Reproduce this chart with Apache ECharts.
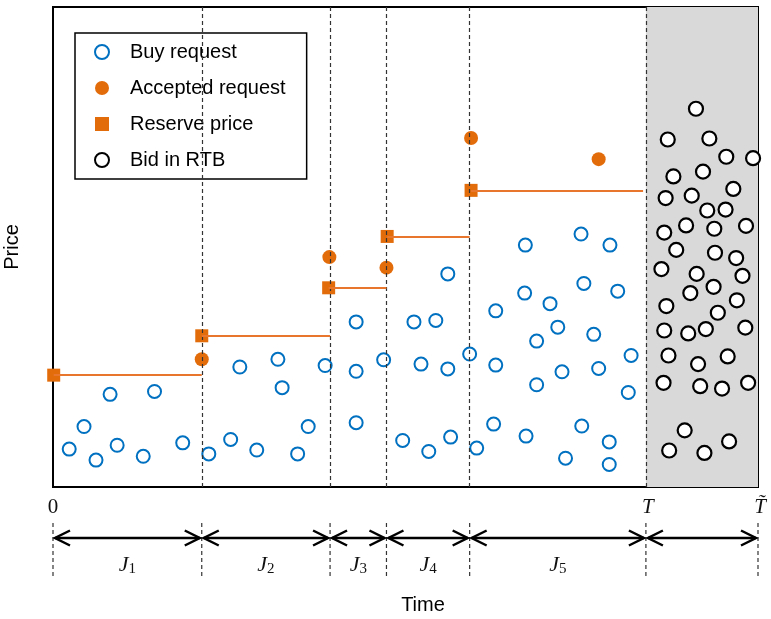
<!DOCTYPE html>
<html>
<head>
<meta charset="utf-8">
<script src="https://cdn.jsdelivr.net/npm/echarts@6/dist/echarts.min.js"></script>
<style>
  html, body { margin: 0; padding: 0; background: #fff; }
  #chart { width: 771px; height: 619px; }
</style>
</head>
<body>
<div id="chart"></div>
<script>
// time runs 0 .. 100 (0 -> T~), price 0 .. 100
const boundaries = [0, 21.1, 39.3, 47.3, 59.1, 84.1, 100];
const periodLabels = ['1', '2', '3', '4', '5', ''];
const timeMarks = [[0, '0'], [84.1, 'T'], [100, 'T\u0303']];

const buyRequests = [
  [2.3, 7.9], [4.4, 12.6], [6.1, 5.6], [8.1, 19.3], [9.1, 8.7], [12.8, 6.4], [14.4, 19.9], [18.4, 9.2],
  [22.1, 6.9], [25.2, 9.9], [26.5, 25.0], [28.9, 7.7], [31.9, 26.6], [32.5, 20.7], [34.7, 6.9], [36.2, 12.6], [38.6, 25.3],
  [43.0, 34.4], [43.0, 24.1], [43.0, 13.4], [46.9, 26.5],
  [49.6, 9.7], [51.2, 34.4], [52.2, 25.6], [53.3, 7.4], [54.3, 34.7], [56.0, 44.4], [56.0, 24.6], [56.4, 10.4],
  [59.1, 27.7], [60.1, 8.1], [62.5, 13.1], [62.8, 36.7], [62.8, 25.4], [66.9, 40.4], [67.0, 50.4], [67.1, 10.6],
  [68.6, 30.4], [68.6, 21.3], [70.5, 38.2], [71.6, 33.3], [72.2, 24.0], [72.7, 6.0], [74.9, 52.7], [75.0, 12.7],
  [75.3, 42.4], [76.7, 31.8], [77.4, 24.7], [78.9, 9.4], [78.9, 4.7], [79.0, 50.4], [80.1, 40.8], [81.6, 19.7], [82.0, 27.4]
];
const acceptedRequests = [[21.1, 26.6], [39.2, 47.9], [47.3, 45.7], [59.3, 72.7], [77.4, 68.3]];
const reservePrices = [[0.1, 23.3], [21.1, 31.5], [39.1, 41.5], [47.4, 52.2], [59.3, 61.8]];
const reserveEnds = [21.1, 39.3, 47.3, 59.1, 83.7];
const rtbBids = [
  [91.2, 78.8], [87.2, 72.4], [93.1, 72.6], [95.5, 68.8], [99.3, 68.5], [88.0, 64.7], [92.2, 65.7], [96.5, 62.1],
  [86.9, 60.2], [90.6, 60.7], [92.8, 57.6], [95.4, 57.8], [86.7, 53.0], [89.8, 54.5], [93.8, 53.8], [98.3, 54.4],
  [88.4, 49.4], [93.9, 48.8], [96.9, 47.7], [86.3, 45.4], [91.3, 44.4], [97.8, 44.0], [90.4, 40.4], [93.7, 41.7],
  [97.0, 38.9], [87.0, 37.7], [94.3, 36.3], [86.7, 32.6], [90.1, 32.0], [92.6, 32.9], [98.2, 33.2], [87.3, 27.4],
  [91.5, 25.6], [95.7, 27.2], [86.6, 21.7], [91.8, 21.0], [94.9, 20.5], [98.6, 21.7], [89.6, 11.8], [87.4, 7.6],
  [92.4, 7.1], [95.9, 9.5]
];

const ORANGE = '#E36C0A';
const BLUE = '#0070C0';
const SANS = 'Liberation Sans, Arial, sans-serif';
const SERIF = 'Liberation Serif, Times New Roman, serif';

// dashed ticks under the plot
function renderTick(params, api) {
  const p = api.coord([api.value(0), 0]);
  return {
    type: 'line',
    shape: { x1: p[0], y1: p[1] - 57, x2: p[0], y2: p[1] - 2 },
    style: { stroke: '#333', lineWidth: 1.2, lineDash: [4, 3] }
  };
}

// double headed arrows with J labels
function renderArrow(params, api) {
  const a = api.coord([api.value(0), 0]);
  const b = api.coord([api.value(1), 0]);
  const x0 = a[0] + 2, x1 = b[0] - 2, y = a[1] - 42;
  const style = { stroke: '#000', lineWidth: 2.5, fill: null };
  const children = [
    { type: 'line', shape: { x1: x0, y1: y, x2: x1, y2: y }, style: style },
    { type: 'polyline', shape: { points: [[x0 + 15, y - 7.5], [x0, y], [x0 + 15, y + 7.5]] }, style: style },
    { type: 'polyline', shape: { points: [[x1 - 15, y - 7.5], [x1, y], [x1 - 15, y + 7.5]] }, style: style }
  ];
  const sub = periodLabels[params.dataIndex];
  if (sub) {
    children.push({
      type: 'text',
      style: {
        text: '{j|J}{s|' + sub + '}',
        x: (x0 + x1) / 2,
        y: a[1] - 15,
        align: 'center',
        verticalAlign: 'middle',
        rich: {
          j: { fontFamily: SERIF, fontStyle: 'italic', fontSize: 22, lineHeight: 24, fill: '#111' },
          s: { fontFamily: SERIF, fontSize: 15, lineHeight: 15, verticalAlign: 'bottom', fill: '#111' }
        }
      }
    });
  }
  return { type: 'group', children: children };
}

function renderMark(params, api) {
  const p = api.coord([api.value(0), 0]);
  const i = params.dataIndex;
  return {
    type: 'text',
    style: {
      text: timeMarks[i][1],
      x: p[0] + (i === 0 ? 0 : 2),
      y: p[1] - 73,
      align: 'center',
      verticalAlign: 'middle',
      fontFamily: SERIF,
      fontStyle: i === 0 ? 'normal' : 'italic',
      fontSize: 21,
      fill: '#111'
    }
  };
}

const chart = echarts.init(document.getElementById('chart'));
chart.setOption({
  animation: false,
  textStyle: { fontFamily: SANS },
  grid: [
    {
      left: 53, right: 13, top: 7, height: 480, show: true,
      borderColor: '#000', borderWidth: 2, backgroundColor: 'transparent',
      containLabel: false, outerBoundsMode: 'none'
    },
    { left: 53, right: 13, top: 495, height: 85, containLabel: false, outerBoundsMode: 'none' }
  ],
  xAxis: [
    {
      gridIndex: 0, type: 'value', min: 0, max: 100,
      name: 'Time', nameLocation: 'middle', nameGap: 108,
      nameTextStyle: { fontSize: 20, color: '#000', fontFamily: SANS, padding: [0, 0, 0, 35] },
      axisLine: { show: false }, axisTick: { show: false }, axisLabel: { show: false }, splitLine: { show: false }
    },
    { gridIndex: 1, type: 'value', min: 0, max: 100, show: false }
  ],
  yAxis: [
    {
      gridIndex: 0, type: 'value', min: 0, max: 100,
      name: 'Price', nameLocation: 'middle', nameGap: 31,
      nameTextStyle: { fontSize: 20, color: '#000', fontFamily: SANS },
      axisLine: { show: false }, axisTick: { show: false }, axisLabel: { show: false }, splitLine: { show: false }
    },
    { gridIndex: 1, type: 'value', min: 0, max: 1, show: false }
  ],
  legend: {
    left: 75,
    top: 33,
    orient: 'vertical',
    itemWidth: 14,
    itemHeight: 14,
    itemGap: 14,
    padding: [8, 21, 8, 19],
    borderColor: '#000',
    borderWidth: 1.5,
    backgroundColor: '#fff',
    textStyle: { fontSize: 20, lineHeight: 22, color: '#000', fontFamily: SANS, padding: [0, 0, 0, 16] },
    data: [
      'Buy request',
      'Accepted request',
      { name: 'Reserve price', icon: 'path://M0 0H10V10H0Z' },
      'Bid in RTB'
    ]
  },
  series: [
    {
      name: 'shade', type: 'line', data: [], z: 1, silent: true,
      markArea: {
        silent: true,
        itemStyle: { color: '#D9D9D9', opacity: 1 },
        data: [[{ xAxis: boundaries[5] }, { xAxis: boundaries[6] }]]
      }
    },
    {
      name: 'dividers', type: 'line', data: [], z: 2, silent: true,
      markLine: {
        silent: true,
        symbol: ['none', 'none'],
        label: { show: false },
        lineStyle: { color: '#333', width: 1.2, type: [4, 3] },
        data: boundaries.slice(1, 6).map(x => ({ xAxis: x }))
      }
    },
    {
      name: 'Buy request', type: 'scatter', data: buyRequests, z: 3,
      symbol: 'circle', symbolSize: 13,
      itemStyle: { color: '#fff', borderColor: BLUE, borderWidth: 2, opacity: 1 }
    },
    {
      name: 'Accepted request', type: 'scatter', data: acceptedRequests, z: 4,
      symbol: 'circle', symbolSize: 14,
      itemStyle: { color: ORANGE, opacity: 1 }
    },
    {
      name: 'Reserve price', type: 'scatter', data: reservePrices, z: 4,
      symbol: 'rect', symbolSize: 13,
      itemStyle: { color: ORANGE, opacity: 1 },
      markLine: {
        silent: true,
        symbol: ['none', 'none'],
        label: { show: false },
        lineStyle: { color: '#E8762D', width: 2, type: 'solid' },
        data: reservePrices.map((p, i) => [{ coord: p }, { coord: [reserveEnds[i], p[1]] }])
      }
    },
    {
      name: 'Bid in RTB', type: 'scatter', data: rtbBids, z: 3,
      symbol: 'circle', symbolSize: 14,
      itemStyle: { color: '#fff', borderColor: '#000', borderWidth: 2.2, opacity: 1 }
    },
    {
      type: 'custom', xAxisIndex: 1, yAxisIndex: 1, silent: true,
      data: boundaries.map(b => [b, 0]),
      renderItem: renderTick
    },
    {
      type: 'custom', xAxisIndex: 1, yAxisIndex: 1, silent: true,
      data: boundaries.slice(0, -1).map((b, i) => [b, boundaries[i + 1]]),
      renderItem: renderArrow
    },
    {
      type: 'custom', xAxisIndex: 1, yAxisIndex: 1, silent: true,
      data: timeMarks.map(m => [m[0], 0]),
      renderItem: renderMark
    }
  ]
});
</script>
</body>
</html>
